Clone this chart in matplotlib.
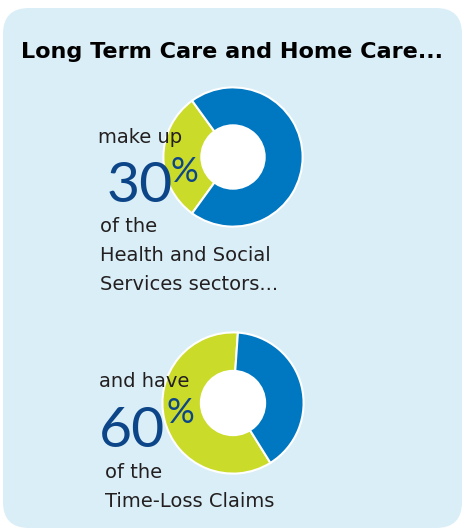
import matplotlib.pyplot as plt
from matplotlib.patches import FancyBboxPatch, Circle

# Shares shown in the two donuts (LTC & home care vs. everything else)
groups = ['Long Term Care and Home Care', 'Other']
sector_share = [30, 70]   # % of Health and Social Services sectors
claims_share = [60, 40]   # % of Time-Loss Claims

title = 'Long Term Care and Home Care...'
top_intro = 'make up'
top_tail = ['of the', 'Health and Social', 'Services sectors...']
bottom_intro = 'and have'
bottom_tail = ['of the', 'Time-Loss Claims']

GREEN = '#cbdb2a'
BLUE = '#0077c1'
BG = '#d9eef7'
NAVY = '#0d4688'
INK = '#231f20'

W, H = 462, 529
plt.rcParams['font.family'] = ['DejaVu Sans']
fig = plt.figure(figsize=(W / 100, H / 100), dpi=100)

# panel background
bg = fig.add_axes([0, 0, 1, 1])
bg.set_xlim(0, W)
bg.set_ylim(H, 0)
bg.axis('off')
bg.add_patch(FancyBboxPatch((3 + 26, 8 + 26), W - 3 - 52, H - 9 - 52,
                            boxstyle='round,pad=26', fc=BG, ec='none'))


def donut(cx, cy, r, values, start, hole):
    ax = fig.add_axes([(cx - r) / W, 1 - (cy + r) / H, 2 * r / W, 2 * r / H])
    ax.pie(values, colors=[GREEN, BLUE], startangle=start, counterclock=True,
           wedgeprops=dict(edgecolor='white', linewidth=1.5))
    ax.add_patch(Circle((0, 0), hole, fc='white', ec='none', zorder=5))
    ax.set_xlim(-1.02, 1.02)
    ax.set_ylim(-1.02, 1.02)
    ax.axis('off')


donut(233, 157, 71, sector_share, 180 - sector_share[0] * 1.8, 0.47)
donut(233, 403, 72, claims_share, 86, 0.47)


def put(x, y, s, **kw):
    fig.text(x / W, 1 - y / H, s, ha='left', va='baseline', **kw)


put(21, 58, title, fontsize=16.1, fontweight='bold', color='black')

num_font = dict(family=['Lato', 'DejaVu Sans'], fontweight='normal', color=NAVY)

put(98, 143, top_intro, fontsize=14, color=INK)
put(107, 202, f'{sector_share[0]}', fontsize=41, **num_font)
put(171, 182, '%', fontsize=25, **num_font)
for i, line in enumerate(top_tail):
    put(100, 232 + 29 * i, line, fontsize=14, color=INK)

put(99, 387, bottom_intro, fontsize=14, color=INK)
put(99, 447, f'{claims_share[0]}', fontsize=41, **num_font)
put(166, 423, '%', fontsize=25, **num_font)
for i, line in enumerate(bottom_tail):
    put(105, 478 + 29 * i, line, fontsize=14, color=INK)

fig.savefig('out.png', dpi=100)
